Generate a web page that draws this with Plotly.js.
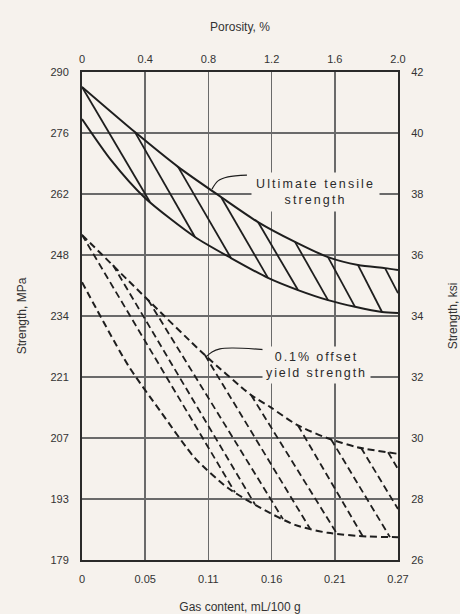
<!DOCTYPE html>
<html>
<head>
<meta charset="utf-8">
<script src="https://cdn.plot.ly/plotly-3.0.1.min.js"></script>
<style>
html,body{margin:0;padding:0;background:#f6f2ed;}
#chart{width:460px;height:614px;}
</style>
</head>
<body>
<div id="chart"></div>
<script>
// ---- Axis ticks (x in porosity %, y in ksi) ----
const porTicks = [0, 0.4, 0.8, 1.2, 1.6, 2.0];
const porLabels = ['0', '0.4', '0.8', '1.2', '1.6', '2.0'];
const gasLabels = ['0', '0.05', '0.11', '0.16', '0.21', '0.27'];
const ksiTicks = [26, 28, 30, 32, 34, 36, 38, 40, 42];
const ksiLabels = ['26', '28', '30', '32', '34', '36', '38', '40', '42'];
const mpaLabels = ['179', '193', '207', '221', '234', '248', '262', '276', '290'];

// ---- Ultimate tensile strength band (ksi vs porosity %) ----
const utsUpperX = [0, 0.335, 0.608, 0.880, 1.114, 1.348, 1.557, 1.747, 1.918, 2.0];
const utsUpperY = [41.51, 40.03, 38.89, 37.90, 37.08, 36.43, 35.93, 35.67, 35.57, 35.51];
const utsLowerX = [0, 0.184, 0.399, 0.715, 0.943, 1.177, 1.367, 1.557, 1.728, 1.899, 2.0];
const utsLowerY = [40.46, 39.11, 37.87, 36.59, 35.90, 35.25, 34.85, 34.52, 34.30, 34.13, 34.10];
// hatch segments: start (on upper curve) -> end (on lower curve)
const utsHatchX0 = [0, 0.335, 0.608, 0.880, 1.114, 1.348, 1.557, 1.747, 1.918];
const utsHatchY0 = [41.51, 40.03, 38.89, 37.90, 37.08, 36.43, 35.93, 35.67, 35.57];
const utsHatchX1 = [0.430, 0.715, 0.943, 1.177, 1.367, 1.557, 1.728, 1.899, 2.0];
const utsHatchY1 = [37.74, 36.59, 35.90, 35.25, 34.85, 34.52, 34.30, 34.13, 34.75];

// ---- 0.1% offset yield strength band ----
const ysUpperX = [0, 0.399, 0.778, 1.070, 1.190, 1.361, 1.551, 1.741, 2.0];
const ysUpperY = [36.66, 34.62, 32.72, 31.41, 31.02, 30.43, 30.00, 29.70, 29.48];
const ysLowerX = [0, 0.291, 0.5, 0.715, 0.924, 1.133, 1.348, 1.557, 1.810, 2.0];
const ysLowerY = [35.11, 32.39, 30.85, 29.34, 28.36, 27.70, 27.15, 26.89, 26.77, 26.75];
const ysHatchX0 = [0, 0.196, 0.418, 0.778, 1.070, 1.367, 1.576, 1.766, 1.937];
const ysHatchY0 = [36.66, 35.67, 34.53, 32.72, 31.41, 30.41, 29.96, 29.68, 29.53];
const ysHatchX1 = [0.968, 1.095, 1.272, 1.443, 1.614, 1.778, 1.949, 2.0, 2.0];
const ysHatchY1 = [28.22, 27.82, 27.34, 27.03, 26.86, 26.77, 26.75, 27.67, 28.98];

// ---- label leader lines ----
const utsLeaderX = [0.823, 0.861, 0.924, 1.044];
const utsLeaderY = [38.16, 38.43, 38.56, 38.62];
const ysLeaderX = [0.785, 0.823, 0.873, 0.949, 1.177];
const ysLeaderY = [32.66, 32.82, 32.92, 32.95, 32.89];

function segs(x0, y0, x1, y1) {
  const xs = [], ys = [];
  for (let i = 0; i < x0.length; i++) {
    xs.push(x0[i], x1[i], null);
    ys.push(y0[i], y1[i], null);
  }
  return {x: xs, y: ys};
}

const INK = '#1e1e1e';
const BG = '#f6f2ed';
const solid = {color: INK, width: 2, shape: 'spline', smoothing: 0.7};
const dashed = {color: INK, width: 2, dash: '7px,4px', shape: 'spline', smoothing: 0.7};

const uh = segs(utsHatchX0, utsHatchY0, utsHatchX1, utsHatchY1);
const yh = segs(ysHatchX0, ysHatchY0, ysHatchX1, ysHatchY1);

const base = {mode: 'lines', showlegend: false, hoverinfo: 'skip'};
const traces = [
  Object.assign({}, base, {x: utsUpperX, y: utsUpperY, line: solid}),
  Object.assign({}, base, {x: utsLowerX, y: utsLowerY, line: solid}),
  Object.assign({}, base, {x: uh.x, y: uh.y, line: {color: INK, width: 1.8}}),
  Object.assign({}, base, {x: ysUpperX, y: ysUpperY, line: dashed}),
  Object.assign({}, base, {x: ysLowerX, y: ysLowerY, line: dashed}),
  Object.assign({}, base, {x: yh.x, y: yh.y, line: {color: INK, width: 1.8, dash: '7px,4px'}}),
  Object.assign({}, base, {x: utsLeaderX, y: utsLeaderY, line: {color: INK, width: 1.2, shape: 'spline'}}),
  Object.assign({}, base, {x: ysLeaderX, y: ysLeaderY, line: {color: INK, width: 1.2, shape: 'spline'}}),
  Object.assign({}, base, {x: [null], y: [null], xaxis: 'x2', yaxis: 'y2'})
];

const FONT = 'Liberation Sans, Arial, sans-serif';
const tickFont = {family: FONT, size: 11, color: '#333'};
const titleFont = {family: FONT, size: 12, color: '#333'};
const GRID = '#6a6a6a';

const layout = {
  width: 460, height: 614,
  margin: {l: 82, r: 62, t: 72, b: 54, pad: 0},
  paper_bgcolor: BG, plot_bgcolor: BG,
  showlegend: false,
  xaxis: {
    range: [0, 2], tickvals: porTicks, ticktext: gasLabels,
    showgrid: true, gridcolor: GRID, gridwidth: 1.5, zeroline: false,
    showline: true, linecolor: '#2a2a2a', linewidth: 2, ticks: '',
    ticklabelstandoff: 8, tickfont: tickFont,
    title: {text: 'Gas content, mL/100 g', font: titleFont, standoff: 19}
  },
  xaxis2: {
    overlaying: 'x', side: 'top', range: [0, 2], tickvals: porTicks, ticktext: porLabels,
    showgrid: false, zeroline: false, showline: true, linecolor: '#2a2a2a', linewidth: 2,
    ticks: '', ticklabelstandoff: 3, tickfont: tickFont,
    title: {text: 'Porosity, %', font: titleFont, standoff: 18}
  },
  yaxis: {
    range: [26, 42], tickvals: ksiTicks, ticktext: mpaLabels,
    showgrid: true, gridcolor: GRID, gridwidth: 1.5, zeroline: false,
    showline: true, linecolor: '#2a2a2a', linewidth: 2, ticks: '',
    ticklabelstandoff: 9, tickfont: tickFont,
    title: {text: 'Strength, MPa', font: titleFont, standoff: 21}
  },
  yaxis2: {
    overlaying: 'y', side: 'right', range: [26, 42], tickvals: ksiTicks, ticktext: ksiLabels,
    showgrid: false, zeroline: false, showline: true, linecolor: '#2a2a2a', linewidth: 2,
    ticks: '', ticklabelstandoff: 9, tickfont: tickFont,
    title: {text: 'Strength, ksi', font: titleFont, standoff: 26}
  },
  annotations: [
    {x: 1.48, y: 38.07, xref: 'x', yref: 'y', showarrow: false,
     text: '<span style="letter-spacing:2.1px">Ultimate tensile</span><br><span style="letter-spacing:2.1px">strength</span>',
     font: {family: FONT, size: 12.5, color: '#2a2a2a'}, bgcolor: BG, borderpad: 4, align: 'center'},
    {x: 1.487, y: 32.39, xref: 'x', yref: 'y', showarrow: false,
     text: '<span style="letter-spacing:1.9px">0.1% offset</span><br><span style="letter-spacing:1.9px">yield strength</span>',
     font: {family: FONT, size: 12.5, color: '#2a2a2a'}, bgcolor: BG, borderpad: 3, align: 'center'}
  ]
};

Plotly.newPlot('chart', traces, layout, {staticPlot: true, displayModeBar: false});
</script>
</body>
</html>
